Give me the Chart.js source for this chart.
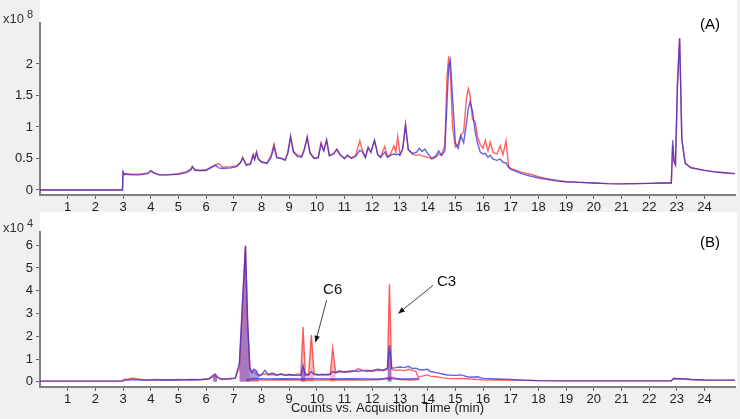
<!DOCTYPE html>
<html>
<head>
<meta charset="utf-8">
<title>Chromatograms</title>
<style>
  body { margin: 0; background: #f0f0f0; }
  .chartBox { position: absolute; left: 0; width: 740px; }
  #boxA { top: 0; height: 212px; }
  #boxB { top: 212px; height: 207px; }
</style>
<script src="https://cdn.jsdelivr.net/npm/chart.js"></script>
</head>
<body>
<div class="chartBox" id="boxA"><canvas id="chartA" width="740" height="212"></canvas></div>
<div class="chartBox" id="boxB"><canvas id="chartB" width="740" height="207"></canvas></div>
<script>
// panel (A), counts x10^8
const timeA = [0, 2.98, 3.0, 3.05, 3.1, 3.3, 3.6, 3.9, 4.0, 4.1, 4.3, 4.6, 5.0, 5.3, 5.45, 5.5, 5.6, 5.8, 6.0, 6.2,
  6.35, 6.45, 6.6, 6.9, 7.1, 7.25, 7.32, 7.45, 7.6, 7.7, 7.75, 7.82, 7.88, 8.0, 8.2, 8.35, 8.45, 8.55, 8.7, 8.85,
  8.95, 9.05, 9.15, 9.3, 9.45, 9.55, 9.65, 9.75, 9.9, 10.05, 10.15, 10.25, 10.35, 10.45, 10.6, 10.72, 10.85, 11.0, 11.1, 11.25,
  11.4, 11.55, 11.65, 11.75, 11.85, 11.95, 12.08, 12.2, 12.3, 12.45, 12.55, 12.65, 12.78, 12.85, 12.92, 13.0, 13.1, 13.2, 13.3, 13.45,
  13.6, 13.7, 13.8, 13.9, 14.0, 14.15, 14.3, 14.4, 14.5, 14.62, 14.7, 14.76, 14.82, 14.9, 15.0, 15.1, 15.2, 15.3, 15.4, 15.47,
  15.53, 15.62, 15.72, 15.8, 15.9, 16.0, 16.08, 16.18, 16.26, 16.36, 16.5, 16.62, 16.72, 16.83, 16.92, 17.0, 17.2, 17.4, 17.7, 18.0,
  18.3, 18.7, 19.0, 19.5, 20.0, 20.5, 21.0, 21.5, 22.0, 22.5, 22.8, 22.85, 22.9, 22.95, 23.02, 23.1, 23.18, 23.3, 23.5, 24.0,
  24.5, 25.1];
const redA = [0, 0, 0.28, 0.25, 0.26, 0.25, 0.25, 0.27, 0.31, 0.28, 0.24, 0.24, 0.26, 0.29, 0.33, 0.37, 0.32, 0.31, 0.32, 0.37,
  0.40, 0.42, 0.36, 0.37, 0.38, 0.44, 0.52, 0.40, 0.42, 0.57, 0.50, 0.61, 0.50, 0.45, 0.43, 0.55, 0.73, 0.52, 0.51, 0.48,
  0.60, 0.86, 0.62, 0.55, 0.54, 0.66, 0.85, 0.60, 0.50, 0.52, 0.75, 0.63, 0.80, 0.55, 0.58, 0.65, 0.56, 0.50, 0.55, 0.51,
  0.55, 0.78, 0.62, 0.52, 0.68, 0.60, 0.78, 0.56, 0.52, 0.69, 0.53, 0.56, 0.70, 0.60, 0.85, 0.56, 0.65, 1.04, 0.64, 0.57,
  0.55, 0.56, 0.54, 0.53, 0.52, 0.49, 0.52, 0.57, 0.55, 0.70, 1.80, 2.12, 1.85, 1.00, 0.68, 0.72, 0.88, 0.92, 1.45, 1.61,
  1.50, 1.12, 1.08, 0.85, 0.72, 0.66, 0.79, 0.62, 0.76, 0.60, 0.57, 0.70, 0.56, 0.78, 0.38, 0.34, 0.31, 0.28, 0.25, 0.21,
  0.18, 0.15, 0.13, 0.12, 0.11, 0.10, 0.097, 0.10, 0.105, 0.11, 0.11, 0.70, 0.45, 0.40, 1.60, 2.40, 0.80, 0.42, 0.36, 0.31,
  0.28, 0.26];
const blueA = [0, 0, 0.29, 0.24, 0.25, 0.24, 0.24, 0.26, 0.30, 0.27, 0.24, 0.24, 0.25, 0.28, 0.32, 0.37, 0.31, 0.31, 0.31, 0.36,
  0.39, 0.35, 0.34, 0.35, 0.37, 0.44, 0.51, 0.39, 0.41, 0.55, 0.48, 0.59, 0.49, 0.44, 0.42, 0.52, 0.69, 0.51, 0.50, 0.47,
  0.58, 0.84, 0.60, 0.53, 0.52, 0.64, 0.83, 0.58, 0.50, 0.51, 0.73, 0.62, 0.79, 0.54, 0.57, 0.64, 0.55, 0.50, 0.55, 0.50,
  0.53, 0.63, 0.60, 0.51, 0.67, 0.60, 0.79, 0.56, 0.52, 0.60, 0.52, 0.55, 0.57, 0.56, 0.57, 0.55, 0.66, 1.03, 0.64, 0.58,
  0.60, 0.66, 0.61, 0.65, 0.58, 0.50, 0.54, 0.62, 0.55, 0.62, 1.40, 1.95, 2.06, 1.45, 0.75, 0.66, 0.86, 0.75, 1.05, 1.30,
  1.40, 1.25, 0.92, 0.75, 0.60, 0.57, 0.58, 0.52, 0.55, 0.49, 0.47, 0.49, 0.44, 0.43, 0.36, 0.33, 0.29, 0.26, 0.22, 0.19,
  0.17, 0.14, 0.13, 0.12, 0.11, 0.10, 0.097, 0.10, 0.105, 0.11, 0.11, 0.79, 0.45, 0.40, 1.70, 2.41, 0.80, 0.43, 0.35, 0.31,
  0.28, 0.26];
const yTicksA = [0, 0.5, 1, 1.5, 2];

// panel (B), counts x10^4
const timeB = [0, 2.98, 3.02, 3.2, 3.35, 3.5, 3.8, 4.2, 4.6, 5.0, 5.4, 5.8, 6.1, 6.25, 6.32, 6.4, 6.55, 6.8, 7.05, 7.2,
  7.3, 7.42, 7.5, 7.58, 7.65, 7.72, 7.8, 7.9, 8.0, 8.12, 8.25, 8.4, 8.55, 8.7, 8.85, 9.0, 9.15, 9.3, 9.42, 9.5,
  9.58, 9.7, 9.8, 9.9, 10.05, 10.2, 10.35, 10.48, 10.57, 10.68, 10.8, 11.0, 11.2, 11.4, 11.5, 11.65, 11.8, 12.0, 12.2, 12.4,
  12.55, 12.62, 12.7, 12.85, 13.0, 13.15, 13.3, 13.45, 13.58, 13.65, 13.8, 14.0, 14.1, 14.3, 14.5, 14.7, 15.0, 15.2, 15.5, 15.8,
  16.0, 16.5, 17.0, 17.5, 18.0, 19.0, 20.0, 21.0, 22.0, 22.8, 22.88, 23.2, 23.5, 24.0, 25.1];
const redB = [0.03, 0.03, 0.10, 0.12, 0.17, 0.12, 0.08, 0.10, 0.07, 0.10, 0.08, 0.10, 0.12, 0.22, 0.25, 0.20, 0.10, 0.12, 0.15, 0.6,
  3.0, 6.0, 2.5, 0.6, 0.45, 0.42, 0.35, 0.30, 0.32, 0.35, 0.30, 0.32, 0.28, 0.35, 0.30, 0.33, 0.28, 0.34, 0.30, 2.40,
  0.35, 0.32, 2.05, 0.35, 0.32, 0.30, 0.33, 0.32, 1.48, 0.40, 0.42, 0.45, 0.43, 0.50, 0.58, 0.48, 0.52, 0.45, 0.50, 0.48,
  0.55, 4.28, 0.55, 0.50, 0.52, 0.48, 0.55, 0.50, 0.45, 0.22, 0.25, 0.30, 0.25, 0.22, 0.18, 0.15, 0.14, 0.15, 0.12, 0.10,
  0.09, 0.08, 0.07, 0.06, 0.05, 0.04, 0.04, 0.04, 0.04, 0.04, 0.14, 0.12, 0.10, 0.08, 0.07];
const blueB = [0.03, 0.03, 0.06, 0.08, 0.10, 0.09, 0.07, 0.08, 0.09, 0.08, 0.10, 0.09, 0.14, 0.28, 0.34, 0.22, 0.12, 0.13, 0.17, 0.8,
  3.2, 5.95, 2.6, 0.6, 0.40, 0.55, 0.50, 0.25, 0.30, 0.50, 0.32, 0.38, 0.30, 0.33, 0.28, 0.31, 0.30, 0.28, 0.27, 0.72,
  0.30, 0.30, 0.45, 0.32, 0.30, 0.33, 0.30, 0.33, 0.45, 0.40, 0.48, 0.42, 0.47, 0.48, 0.45, 0.50, 0.45, 0.50, 0.55, 0.52,
  0.60, 1.61, 0.60, 0.62, 0.65, 0.62, 0.68, 0.58, 0.60, 0.55, 0.52, 0.55, 0.45, 0.40, 0.35, 0.30, 0.28, 0.30, 0.20, 0.22,
  0.15, 0.12, 0.10, 0.07, 0.05, 0.04, 0.04, 0.04, 0.04, 0.04, 0.14, 0.13, 0.10, 0.08, 0.07];
const lowTimeB = [7.45, 7.7, 8.2, 8.8, 9.4, 10.0, 10.6, 11.2, 11.8, 12.3, 12.55, 12.7, 13.0, 13.4, 13.7];
const lowRedB = [0.05, 0.08, 0.07, 0.09, 0.08, 0.07, 0.09, 0.08, 0.07, 0.10, 0.18, 0.20, 0.10, 0.08, 0.10];
const lowBlueB = [0.08, 0.15, 0.12, 0.13, 0.12, 0.14, 0.12, 0.13, 0.12, 0.12, 0.14, 0.13, 0.12, 0.12, 0.15];
const redPeaksB = [[6.2, 6.45], [7.1, 7.6], [9.42, 9.58], [9.7, 9.9], [10.48, 10.68], [12.55, 12.7]];
const bluePeaksB = [[6.2, 6.45], [7.1, 7.6], [7.65, 7.9], [9.42, 9.58], [12.55, 12.7]];
const yTicksB = [0, 1, 2, 3, 4, 5, 6];
const notesB = [
  { text: 'C6', x: 10.57, y: 4.02, fromX: 10.35, fromY: 3.58, toX: 9.95, toY: 1.74 },
  { text: 'C3', x: 14.68, y: 4.4, fromX: 14.2, fromY: 4.24, toX: 12.94, toY: 3.0 }
];

const xTicks = [1, 2, 3, 4, 5, 6, 7, 8, 9, 10, 11, 12, 13, 14, 15, 16, 17, 18, 19, 20, 21, 22, 23, 24];

const FONT = '"Liberation Sans", Arial, sans-serif';
const RED = 'rgba(255, 45, 45, 0.75)';
const BLUE = 'rgba(50, 45, 215, 0.75)';

const pts = (xs, ys) => xs.map((x, i) => ({ x: x, y: ys[i] }));
const inPeaks = (xs, ys, wins) => xs.map((x, i) => ({
  x: x,
  y: wins.some(w => x >= w[0] && x <= w[1]) ? ys[i] : null
}));

// white plot region, the rest of the page stays grey
const plotBg = {
  id: 'plotBg',
  beforeDraw(chart) {
    const { ctx, chartArea } = chart;
    ctx.save();
    ctx.fillStyle = '#ffffff';
    ctx.fillRect(chartArea.left, 0, chart.width - 3 - chartArea.left, chartArea.bottom);
    ctx.restore();
  }
};

const panelText = {
  id: 'panelText',
  afterDraw(chart, args, opts) {
    const { ctx, chartArea } = chart;
    ctx.save();
    ctx.textBaseline = 'middle';
    ctx.fillStyle = '#333';
    ctx.font = '13px ' + FONT;
    ctx.fillText('x10', 3, chartArea.top - 4);
    const w = ctx.measureText('x10').width;
    ctx.font = '11px ' + FONT;
    ctx.fillText(opts.exp, 3 + w + 3, chartArea.top - 8);

    ctx.fillStyle = '#000';
    ctx.font = '15px ' + FONT;
    ctx.textAlign = 'center';
    ctx.fillText(opts.tag, chartArea.right - 25, chartArea.top + opts.tagDy);

    const xs = chart.scales.x, ys = chart.scales.y;
    (opts.notes || []).forEach(n => {
      ctx.fillStyle = '#111';
      ctx.fillText(n.text, xs.getPixelForValue(n.x), ys.getPixelForValue(n.y));
      const x0 = xs.getPixelForValue(n.fromX), y0 = ys.getPixelForValue(n.fromY);
      const x1 = xs.getPixelForValue(n.toX), y1 = ys.getPixelForValue(n.toY);
      const a = Math.atan2(y1 - y0, x1 - x0);
      ctx.strokeStyle = '#444';
      ctx.lineWidth = 1;
      ctx.beginPath();
      ctx.moveTo(x0, y0);
      ctx.lineTo(x1, y1);
      ctx.stroke();
      ctx.beginPath();
      ctx.moveTo(x1, y1);
      ctx.lineTo(x1 - 7 * Math.cos(a - 0.4), y1 - 7 * Math.sin(a - 0.4));
      ctx.lineTo(x1 - 7 * Math.cos(a + 0.4), y1 - 7 * Math.sin(a + 0.4));
      ctx.closePath();
      ctx.fill();
    });
    ctx.restore();
  }
};

function lineSet(data, color, order) {
  return { data: data, borderColor: color, borderWidth: 1.4, pointRadius: 0, tension: 0, fill: false, order: order };
}

function fillSet(data, color, order) {
  return { data: data, borderWidth: 0, borderColor: 'transparent', backgroundColor: color,
    pointRadius: 0, tension: 0, fill: 'origin', spanGaps: false, order: order };
}

function makeOptions(yMin, yMax, yTicks, xHeight, pad, text, withTitle) {
  return {
    responsive: false,
    animation: false,
    events: [],
    layout: { padding: pad },
    scales: {
      x: {
        type: 'linear', min: 0, max: 25.1,
        afterBuildTicks: s => { s.ticks = xTicks.map(v => ({ value: v })); },
        afterFit: s => { s.height = xHeight; },
        ticks: { font: { family: FONT, size: 13 }, color: '#222', padding: 1, maxRotation: 0, callback: v => v },
        grid: { drawOnChartArea: false, tickLength: 4, color: '#666' },
        border: { color: '#808080', width: 2 },
        title: { display: withTitle, text: 'Counts vs. Acquisition Time (min)', color: '#222',
          font: { family: FONT, size: 13 }, padding: { top: 0, bottom: 3 } }
      },
      y: {
        min: yMin, max: yMax,
        afterBuildTicks: s => { s.ticks = yTicks.map(v => ({ value: v })); },
        afterFit: s => { s.width = 40; },
        ticks: { font: { family: FONT, size: 13 }, color: '#222', padding: 3, callback: v => String(v) },
        grid: { drawOnChartArea: false, tickLength: 4, color: '#666' },
        border: { color: '#808080', width: 2 }
      }
    },
    plugins: {
      legend: { display: false },
      tooltip: { enabled: false },
      panelText: text
    }
  };
}

function buildTopChart() {
  new Chart(document.getElementById('chartA'), {
    type: 'line',
    data: {
      datasets: [
        lineSet(pts(timeA, blueA), BLUE, 1),
        lineSet(pts(timeA, redA), RED, 2)
      ]
    },
    options: makeOptions(-0.08, 2.65, yTicksA, 17, { top: 23, right: 5, left: 0, bottom: 0 },
      { exp: '8', tag: '(A)', tagDy: 2 }, false),
    plugins: [plotBg, panelText]
  });
}

function buildBottomChart() {
  new Chart(document.getElementById('chartB'), {
    type: 'line',
    data: {
      datasets: [
        lineSet(pts(timeB, blueB), BLUE, 1),
        lineSet(pts(timeB, redB), RED, 2),
        lineSet(pts(lowTimeB, lowBlueB), BLUE, 3),
        lineSet(pts(lowTimeB, lowRedB), RED, 4),
        fillSet(inPeaks(timeB, blueB, bluePeaksB), 'rgba(60, 40, 200, 0.45)', 5),
        fillSet(inPeaks(timeB, redB, redPeaksB), 'rgba(255, 60, 60, 0.35)', 6)
      ]
    },
    options: makeOptions(-0.23, 6.58, yTicksB, 32, { top: 20, right: 5, left: 0, bottom: 0 },
      { exp: '4', tag: '(B)', tagDy: 11, notes: notesB }, true),
    plugins: [plotBg, panelText]
  });
}

buildTopChart();
buildBottomChart();
</script>
</body>
</html>
